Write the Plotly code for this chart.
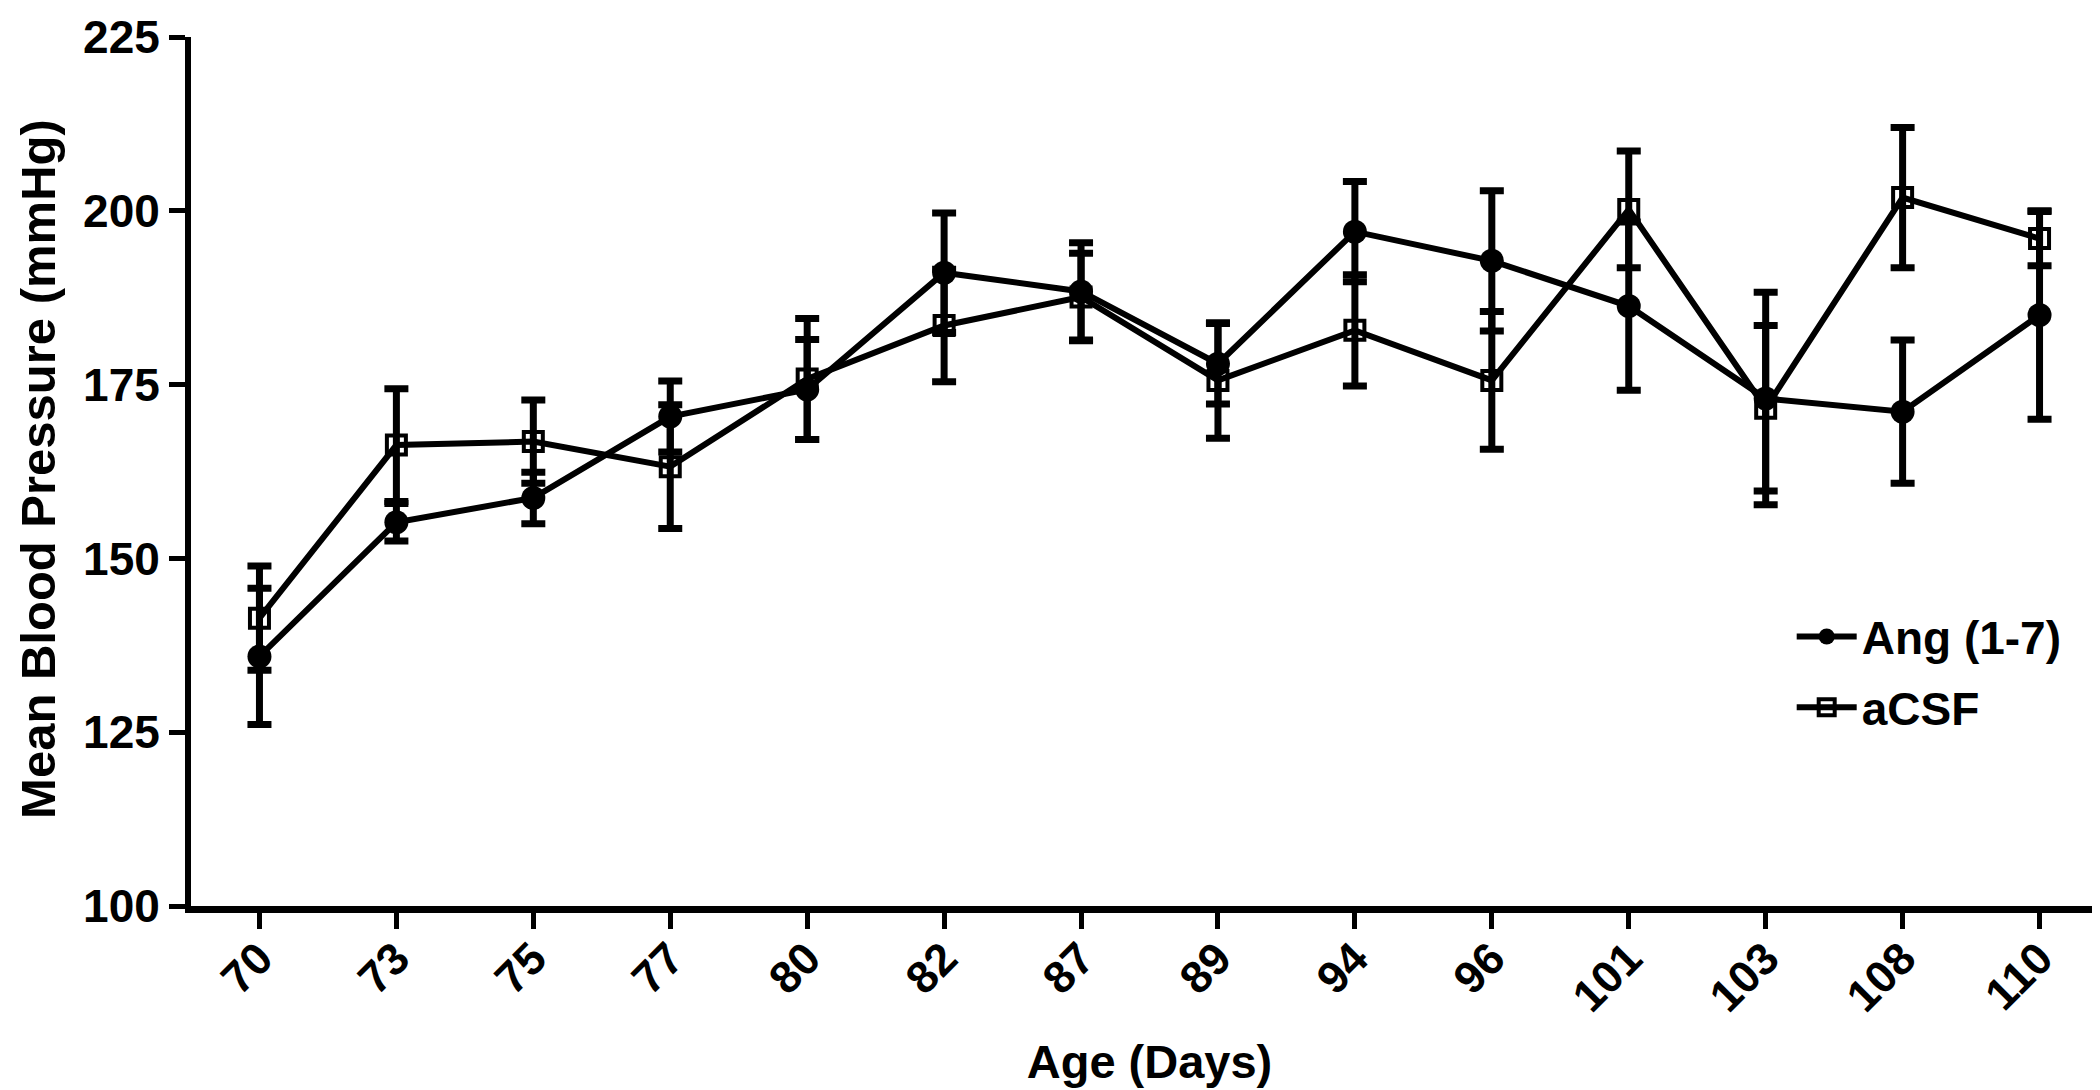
import plotly.graph_objects as go

ages = ["70", "73", "75", "77", "80", "82", "87", "89", "94", "96", "101", "103", "108", "110"]

ang_mean = [135.9, 155.2, 158.7, 170.4, 174.3, 191.1, 188.4, 178.0, 197.0, 192.8, 186.3, 173.0, 171.1, 185.0]
ang_err = [9.8, 2.7, 3.7, 5.1, 7.2, 8.6, 7.0, 5.8, 7.2, 10.1, 12.1, 15.3, 10.3, 15.0]

acsf_mean = [141.4, 166.3, 166.8, 163.2, 175.8, 183.5, 187.6, 175.6, 182.8, 175.6, 200.2, 171.6, 201.9, 196.0]
acsf_err = [7.5, 8.1, 6.0, 8.9, 8.7, 8.1, 6.3, 8.3, 8.0, 9.9, 8.4, 11.9, 10.1, 3.9]

y_ticks = [100, 125, 150, 175, 200, 225]

FONT = "Liberation Sans, Arial, sans-serif"

fig = go.Figure()

fig.add_trace(go.Scatter(
    x=ages, y=ang_mean, name="Ang (1-7)", mode="lines+markers", legendgroup="ang",
    line=dict(color="black", width=6),
    marker=dict(symbol="circle", size=24, color="black"),
    error_y=dict(type="data", array=ang_err, visible=True, color="black",
                 thickness=7, width=12),
))

fig.add_trace(go.Scatter(
    x=ages, y=acsf_mean, name="aCSF", mode="lines+markers", legendgroup="acsf",
    line=dict(color="black", width=6),
    marker=dict(symbol="square-open", size=19, color="black",
                line=dict(color="black", width=4)),
    error_y=dict(type="data", array=acsf_err, visible=True, color="black",
                 thickness=7, width=12),
))

fig.update_layout(
    width=2100, height=1090,
    margin=dict(l=183, r=0, t=29, b=192, autoexpand=False),
    paper_bgcolor="white", plot_bgcolor="white",
    font=dict(family=FONT, color="black", size=46, weight="bold"),
    showlegend=True,
    legend=dict(x=0.835, y=0.352, xanchor="left", yanchor="top",
                bgcolor="rgba(0,0,0,0)", font=dict(size=46, family=FONT, weight="bold"),
                itemwidth=60, tracegroupgap=8),
    xaxis=dict(
        type="category", range=[-0.5, 13.5],
        showline=True, linecolor="black", linewidth=7,
        ticks="outside", ticklen=16, tickwidth=5, tickcolor="black",
        tickangle=-45, tickfont=dict(size=45, family=FONT, weight="bold"),
        ticklabeloverflow="allow", ticklabelstandoff=-15,
        showgrid=False, zeroline=False,
        title=dict(text="Age (Days)", font=dict(size=47, family=FONT, weight="bold"), standoff=27),
        automargin=False,
    ),
    yaxis=dict(
        range=[100, 225], tickvals=y_ticks,
        showline=True, linecolor="black", linewidth=6,
        ticks="outside", ticklen=16, tickwidth=5, tickcolor="black",
        tickfont=dict(size=46, family=FONT, weight="bold"),
        ticklabelstandoff=0, ticklabeloverflow="allow",
        showgrid=False, zeroline=False,
        automargin=False,
    ),
    annotations=[dict(
        text="Mean Blood Pressure (mmHg)", textangle=-90,
        xref="paper", yref="paper", x=-0.0798, y=0.503,
        xanchor="center", yanchor="middle", showarrow=False,
        font=dict(size=49, family=FONT, weight="bold", color="black"),
    )],
)

fig.write_html("out.html")
